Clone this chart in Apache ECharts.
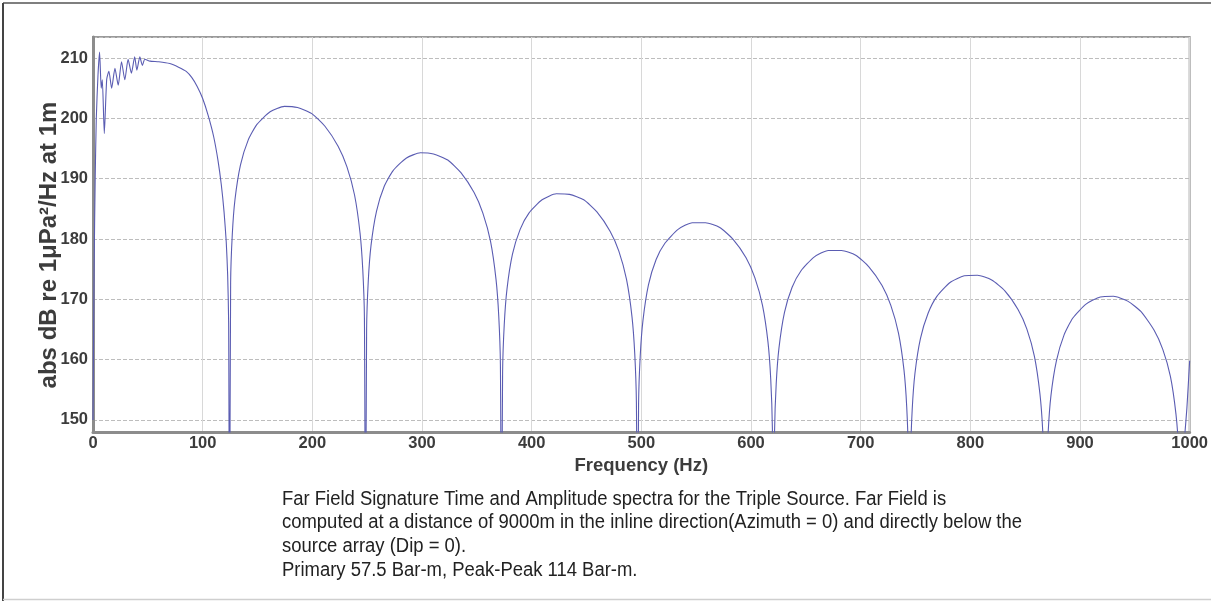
<!DOCTYPE html>
<html>
<head>
<meta charset="utf-8">
<script src="https://cdn.jsdelivr.net/npm/echarts@6/dist/echarts.min.js"></script>
<style>
  html, body { margin: 0; padding: 0; background: #fff; }
  #spectrum-chart { width: 1211px; height: 601px; }
</style>
</head>
<body>
<div id="spectrum-chart"></div>
<script>
// [Hz, dB], one array per lobe between ghost notches
const lowBand = [
  [0, 150], [1, 175], [2, 190], [3, 200], [4.5, 207], [6, 211.0], [7.5, 205.0], [8.5, 206.4],
  [10.3, 197.5], [12.5, 206.5], [14.5, 207.8], [17, 205.0], [20, 208.3], [23, 205.5], [26, 209.4],
  [29, 206.4], [32, 209.8], [35, 207.5], [38, 210.2], [40, 208.0], [42.7, 210.2], [45, 208.8],
  [47.3, 209.8], [52, 209.5], [60, 209.4], [70, 209.1], [78, 208.5], [85, 207.8], [90, 206.8],
  [95, 205.3], [100, 203.3], [105, 200.5], [110, 197.0], [114, 193.0], [117, 189.0],
  [119.5, 184.5], [121.5, 179.5], [122.8, 174], [123.7, 166], [124.5, 125]
];
const lobe1 = [
  [125.5, 172.7], [127, 180.7], [129.5, 186.6], [134.5, 192.3], [141.5, 196.4], [149.5, 199.0],
  [161.5, 201.1], [174.5, 202.0], [186.5, 201.8], [199.5, 200.8], [211.5, 198.7], [223.5, 195.4],
  [231.5, 192.0], [238.5, 187.3], [243.5, 181.0], [246, 174.9], [247.5, 166.9], [248.5, 125]
];
const lobe2 = [
  [249.5, 165.0], [251, 173.0], [253.5, 178.9], [258.5, 184.6], [265.5, 188.7], [273.5, 191.3],
  [285.5, 193.4], [298.5, 194.3], [310.5, 194.1], [323.5, 193.1], [335.5, 191.0], [347.5, 187.7],
  [355.5, 184.3], [362.5, 179.6], [367.5, 173.3], [370, 167.2], [371.5, 159.2], [372.5, 125]
];
const lobe3 = [
  [373.5, 157.9], [375, 165.8], [377.5, 171.7], [382.5, 177.5], [389.5, 181.6], [397.5, 184.3],
  [409.5, 186.5], [422.5, 187.5], [434.5, 187.4], [447.5, 186.5], [459.5, 184.5], [471.5, 181.3],
  [479.5, 178.0], [486.5, 173.3], [491.5, 167.1], [494, 161.0], [495.5, 153.0], [496.5, 125]
];
const lobe4 = [
  [497.5, 152.7], [499, 160.6], [501.5, 166.5], [506.5, 172.4], [513.5, 176.6], [521.5, 179.3],
  [533.5, 181.6], [546.5, 182.7], [558.5, 182.7], [571.5, 181.9], [583.5, 180.0], [595.5, 176.9],
  [603.5, 173.6], [610.5, 169.0], [615.5, 162.9], [618, 156.8], [619.5, 148.7], [620.5, 125]
];
const lobe5 = [
  [621.5, 148.1], [623, 156.0], [625.5, 161.9], [630.5, 167.8], [637.5, 172.0], [645.5, 174.7],
  [657.5, 177.0], [670.5, 178.1], [682.5, 178.1], [695.5, 177.3], [707.5, 175.4], [719.5, 172.3],
  [727.5, 169.0], [734.5, 164.4], [739.5, 158.3], [742, 152.2], [743.5, 144.1], [744.5, 125]
];
const lobe6 = [
  [745.5, 143.8], [747, 151.7], [749.5, 157.7], [754.5, 163.5], [761.5, 167.7], [769.5, 170.5],
  [781.5, 172.8], [794.5, 173.9], [806.5, 174.0], [819.5, 173.2], [831.5, 171.4], [843.5, 168.3],
  [851.5, 165.1], [858.5, 160.5], [863.5, 154.3], [866, 148.3], [867.5, 140.2], [868.5, 125]
];
const lobe7 = [
  [869.5, 140.1], [871, 148.0], [873.5, 154.0], [878.5, 159.8], [885.5, 164.1], [893.5, 166.9],
  [905.5, 169.2], [918.5, 170.4], [930.5, 170.5], [943.5, 169.7], [955.5, 168.0], [967.5, 164.9],
  [975.5, 161.7], [982.5, 157.2], [987.5, 151.0], [990, 145.0], [991.5, 136.9], [992.5, 125]
];
const tail = [[993.5, 138], [995, 146], [997.5, 152], [1000, 159.8]];

const yTitle = 'abs dB re 1μPa²/Hz at 1m';
const captionLines = [
  'Far Field Signature Time and Amplitude spectra for the Triple Source. Far Field is',
  'computed at a distance of 9000m in the inline direction(Azimuth = 0) and directly below the',
  'source array (Dip = 0).',
  'Primary 57.5 Bar-m, Peak-Peak 114 Bar-m.'
];

const spectrum = [].concat(lowBand, lobe1, lobe2, lobe3, lobe4, lobe5, lobe6, lobe7, tail);

const chartDom = document.getElementById('spectrum-chart');
const myChart = echarts.init(chartDom, null, { renderer: 'canvas' });

// the caption in the source is set in a narrow face, squeeze a regular one to the same width
const captionFont = '20px "Liberation Sans", Arial, sans-serif';
const ctx = document.createElement('canvas').getContext('2d');
ctx.font = captionFont;
const captionScale = 740 / ctx.measureText(captionLines[1]).width;

const labelFont = {
  fontFamily: 'Liberation Sans, Arial, sans-serif',
  fontWeight: 'bold',
  fontSize: 16.5,
  color: '#3c3c3c'
};

const option = {
  animation: false,
  grid: {
    left: 93,
    right: 18,
    top: 37,
    bottom: 169,
    show: true,
    borderColor: '#9a9a9a',
    borderWidth: 2
  },
  xAxis: {
    type: 'value',
    min: 0,
    max: 1000,
    interval: 100,
    name: 'Frequency (Hz)',
    nameLocation: 'middle',
    nameGap: 24,
    nameTextStyle: {
      fontFamily: 'Liberation Sans, Arial, sans-serif',
      fontWeight: 'bold',
      fontSize: 18.5,
      color: '#3c3c3c'
    },
    axisLine: { show: true, lineStyle: { color: '#8c8c8c', width: 3 } },
    axisTick: { show: false },
    axisLabel: Object.assign({ margin: 3, formatter: v => String(v) }, labelFont),
    splitLine: { show: true, lineStyle: { color: '#d8d8d8', width: 1 } }
  },
  yAxis: {
    type: 'value',
    min: 148,
    max: 213.5,
    splitNumber: 7,
    axisLine: { show: true, lineStyle: { color: '#8c8c8c', width: 3 } },
    axisTick: { show: false },
    axisLabel: Object.assign({ margin: 5, showMinLabel: false, showMaxLabel: false }, labelFont),
    splitLine: { show: true, lineStyle: { color: '#bdbdbd', width: 1, type: [4, 2] } }
  },
  series: [
    {
      type: 'line',
      data: spectrum,
      symbol: 'none',
      smooth: 0.2,
      clip: true,
      lineStyle: { color: '#5a5cb2', width: 1.1 }
    }
  ],
  graphic: [
    // page frame
    { type: 'line', shape: { x1: 3, y1: 3, x2: 1211, y2: 3 }, style: { stroke: '#555', lineWidth: 1.5 } },
    { type: 'line', shape: { x1: 3, y1: 3, x2: 3, y2: 601 }, style: { stroke: '#444', lineWidth: 2 } },
    { type: 'line', shape: { x1: 3, y1: 599.5, x2: 1211, y2: 599.5 }, style: { stroke: '#cfcfcf', lineWidth: 1.5 } },
    {
      type: 'text',
      x: 49,
      y: 245,
      rotation: Math.PI / 2,
      style: {
        text: yTitle,
        fontFamily: 'Liberation Sans, Arial, sans-serif',
        fontWeight: 'bold',
        fontSize: 24,
        fill: '#3c3c3c',
        align: 'center',
        verticalAlign: 'middle'
      }
    }
  ].concat(captionLines.map((line, i) => ({
    type: 'text',
    x: 282,
    y: 489 + i * 23.7,
    scaleX: captionScale,
    style: {
      text: line,
      font: captionFont,
      fill: '#222',
      align: 'left',
      verticalAlign: 'top'
    }
  })))
};

option && myChart.setOption(option);
</script>
</body>
</html>
